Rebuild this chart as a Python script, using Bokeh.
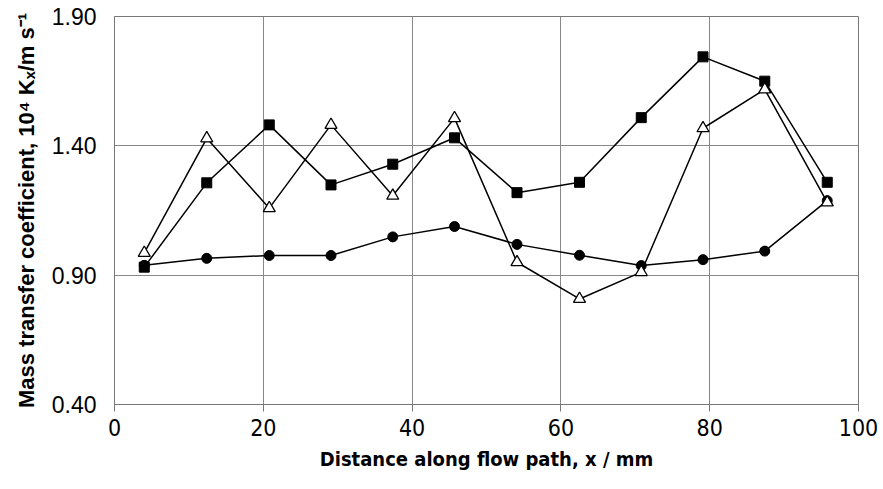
from bokeh.plotting import figure
from bokeh.models import Range1d, FixedTicker
from bokeh.embed import file_html
from bokeh.resources import INLINE

# Distance along flow path (mm)
x_mm = [4.0, 12.4, 20.8, 29.1, 37.4, 45.7, 54.1, 62.5, 70.8, 79.1, 87.4, 95.8]

# Mass transfer coefficient, 10^4 Kx (m/s)
series_square = [0.931, 1.257, 1.481, 1.249, 1.329, 1.431, 1.219, 1.259, 1.509, 1.744, 1.650, 1.259]
series_triangle = [0.986, 1.429, 1.159, 1.481, 1.207, 1.507, 0.950, 0.808, 0.912, 1.468, 1.618, 1.181]
series_circle = [0.938, 0.965, 0.976, 0.976, 1.048, 1.088, 1.019, 0.977, 0.937, 0.960, 0.993, 1.188]

x_ticks = [0, 20, 40, 60, 80, 100]
y_ticks = [0.40, 0.90, 1.40, 1.90]
y_tick_labels = {0.40: "0.40", 0.90: "0.90", 1.40: "1.40", 1.90: "1.90"}

p = figure(width=883, height=489, output_backend="svg", toolbar_location=None,
           x_range=Range1d(0, 100), y_range=Range1d(0.40, 1.90),
           min_border_left=114, min_border_right=25, min_border_top=16, min_border_bottom=85)

p.background_fill_color = "white"
p.border_fill_color = "white"
p.outline_line_color = "#777777"
p.outline_line_width = 1

# axes
p.xaxis.ticker = FixedTicker(ticks=x_ticks)
p.yaxis.ticker = FixedTicker(ticks=y_ticks)
p.yaxis.major_label_overrides = y_tick_labels
p.xaxis.minor_tick_line_color = None
p.yaxis.minor_tick_line_color = None
p.yaxis.major_tick_line_color = None
p.xaxis.major_tick_out = 7
p.xaxis.major_tick_in = 0
p.xaxis.major_tick_line_color = "#777777"
p.xaxis.axis_line_color = "#777777"
p.yaxis.axis_line_color = "#777777"

p.xaxis.major_label_text_font = "DejaVu Sans Condensed, Liberation Sans"
p.xaxis.major_label_text_font_size = "23px"
p.xaxis.major_label_text_color = "black"
p.xaxis.major_label_standoff = 7
p.yaxis.major_label_text_font = "Liberation Sans"
p.yaxis.major_label_text_font_size = "23px"
p.yaxis.major_label_text_color = "black"
p.yaxis.major_label_standoff = 12

p.xaxis.axis_label = "Distance along flow path, x / mm"
p.xaxis.axis_label_text_font = "DejaVu Sans Condensed, Liberation Sans"
p.xaxis.axis_label_text_font_style = "bold"
p.xaxis.axis_label_text_font_size = "20px"
p.xaxis.axis_label_text_color = "black"
p.xaxis.axis_label_standoff = 8

p.yaxis.axis_label = "Mass transfer coefficient, 10\u2074 K\u2093/m s\u207b\u00b9"
p.yaxis.axis_label_text_font = "Liberation Sans"
p.yaxis.axis_label_text_font_style = "bold"
p.yaxis.axis_label_text_font_size = "22px"
p.yaxis.axis_label_text_color = "black"
p.yaxis.axis_label_standoff = 10

# grid
p.xgrid.ticker = FixedTicker(ticks=x_ticks)
p.ygrid.ticker = FixedTicker(ticks=y_ticks)
p.xgrid.grid_line_color = "#888888"
p.ygrid.grid_line_color = "#888888"
p.xgrid.grid_line_width = 1
p.ygrid.grid_line_width = 1

# series: circles
p.line(x_mm, series_circle, line_color="black", line_width=1.5)
p.scatter(x_mm, series_circle, marker="circle", size=10, fill_color="black", line_color="black")

# series: squares
p.line(x_mm, series_square, line_color="black", line_width=1.5)
p.scatter(x_mm, series_square, marker="square", size=10, fill_color="black", line_color="black")

# series: open triangles
p.line(x_mm, series_triangle, line_color="black", line_width=1.5)
p.scatter(x_mm, series_triangle, marker="triangle", size=12, fill_color="white",
          line_color="black", line_width=1.3)

open("out.html", "w").write(file_html(p, INLINE))
